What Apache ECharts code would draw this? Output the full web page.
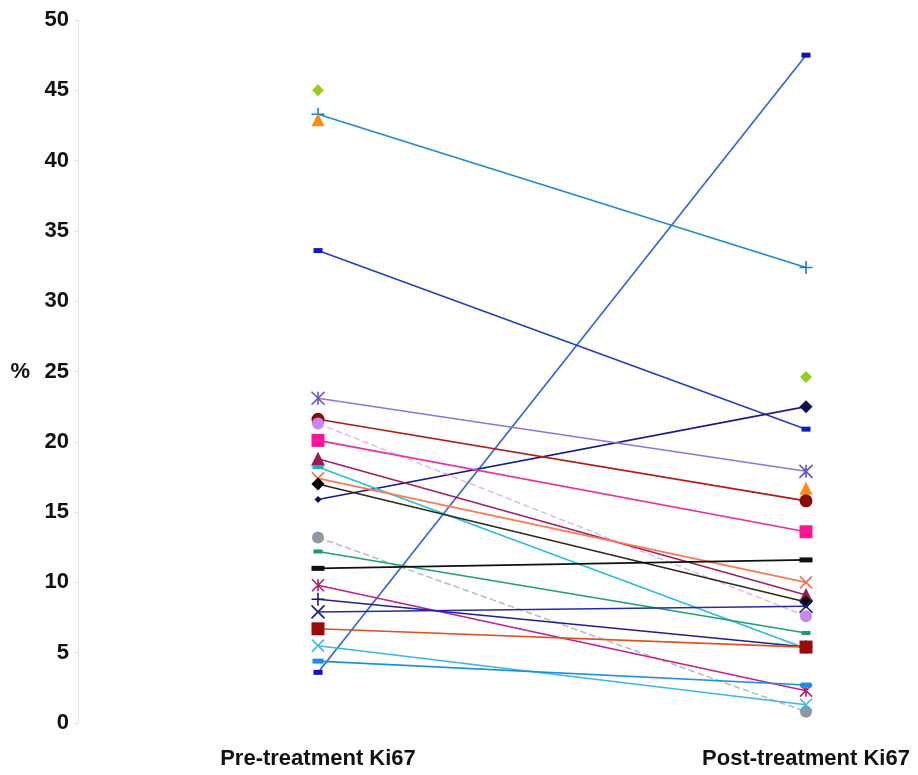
<!DOCTYPE html>
<html>
<head>
<meta charset="utf-8">
<script src="https://cdn.jsdelivr.net/npm/echarts@6/dist/echarts.min.js"></script>
<style>html,body{margin:0;padding:0;background:#fff}#c{width:918px;height:775px}</style>
</head>
<body>
<div id="c"></div>
<script>
const categories = ['Pre-treatment Ki67', 'Post-treatment Ki67'];
const yTicks = [0, 5, 10, 15, 20, 25, 30, 35, 40, 45, 50];
// Ki67 % per patient
const preValues  = [3.6, 43.3, 45.0, 42.9, 33.6, 15.9, 23.1, 21.6, 21.3, 20.1, 18.8, 18.2, 17.4, 17.0, 13.2, 12.2, 11.0, 9.8, 8.8, 7.9, 6.7, 5.5, 4.4];
const postValues = [47.5, 32.4, 24.6, 16.7, 20.9, 22.5, 17.9, 15.8, 7.6, 13.6, 9.1, 5.3, 10.0, 8.6, 0.8, 6.4, 11.6, 2.3, 5.4, 8.3, 5.4, 1.3, 2.7];

const PLUS = 'path://M5,0L5,10M0,5L10,5';
const XS = 'path://M0,0L10,10M10,0L0,10';
const AST = 'path://M0,0L10,10M10,0L0,10M5,0L5,10';
// styles: [markerColor, lineColor, symbol, size, lineType, lineOpacity, strokeSymbol]
const styles = [
  ['#1010c8', '#2f62d8', 'rect', [9, 5], 'solid', 1, false],
  ['#1e7fc0', '#1e8ccc', PLUS, 13, 'solid', 1, true],
  ['#99cc22', '#99cc22', 'diamond', 12, 'dashed', 0, false],
  ['#ff8c10', '#ff8c10', 'triangle', 13, 'dashed', 0, false],
  ['#0a1ec8', '#2040c0', 'rect', [9, 5], 'solid', 1, false],
  ['#10105a', '#1a1a8c', 'diamond', 13, 'solid', 1, false],
  ['#6a50c8', '#8878d8', AST, 13, 'solid', 1, true],
  ['#8a0a0a', '#b01818', 'circle', 13, 'solid', 1, false],
  ['#c688f0', '#d090e8', 'circle', 12, 'dashed', 0.6, false],
  ['#ff1493', '#e8309c', 'rect', 13, 'solid', 1, false],
  ['#9a1a55', '#a02060', 'triangle', 14, 'solid', 1, false],
  ['#20b0c0', '#28c0d8', 'rect', [11, 4], 'solid', 1, false],
  ['#ff6a50', '#ff7850', XS, 12, 'solid', 1, true],
  ['#000000', '#302818', 'diamond', 13, 'solid', 1, false],
  ['#9098a0', '#a8aeb4', 'circle', 12, 'dashed', 0.8, false],
  ['#1a9a6a', '#20a070', 'rect', [9, 4], 'solid', 1, false],
  ['#101010', '#101010', 'rect', [13, 5], 'solid', 1, false],
  ['#b02070', '#c02090', AST, 12, 'solid', 1, true],
  ['#1a1a7a', '#20208c', PLUS, 13, 'solid', 1, true],
  ['#1a1a8a', '#2828a8', XS, 13, 'solid', 1, true],
  ['#9a0a0a', '#e05020', 'rect', 13, 'solid', 1, false],
  ['#40b8e8', '#38b8e8', XS, 12, 'solid', 1, true],
  ['#1890e8', '#1a90e0', 'rect', [11, 5], 'solid', 1, false]
];

const series = preValues.map((p, i) => {
  const s = styles[i];
  return {
    type: 'line',
    data: [
      { value: p, symbolSize: i === 5 ? 7 : s[3] },
      { value: postValues[i], symbolSize: s[3] }
    ],
    symbol: s[2],
    showSymbol: true,
    silent: true,
    animation: false,
    lineStyle: { color: s[1], width: 1.6, type: s[4], opacity: s[5] },
    itemStyle: s[6]
      ? { color: s[0], borderColor: s[0], borderWidth: 1.6 }
      : { color: s[0], borderWidth: 0 },
    z: 2
  };
});

const FONT = 'Liberation Sans, Arial, sans-serif';
const chart = echarts.init(document.getElementById('c'));
chart.setOption({
  animation: false,
  backgroundColor: '#ffffff',
  grid: { left: 318, right: 112, top: 20, bottom: 52 },
  xAxis: {
    type: 'category',
    data: categories,
    boundaryGap: false,
    axisLine: { show: false },
    axisTick: { show: false },
    splitLine: { show: false },
    axisLabel: { margin: 25, fontSize: 22, fontWeight: 'bold', color: '#111', fontFamily: FONT }
  },
  yAxis: {
    type: 'value',
    min: yTicks[0],
    max: yTicks[yTicks.length - 1],
    interval: 5,
    offset: 240,
    name: '%',
    nameLocation: 'middle',
    nameRotate: 0,
    nameGap: 48,
    nameTextStyle: { fontSize: 22, fontWeight: 'bold', color: '#111', fontFamily: FONT },
    axisLine: { show: true, lineStyle: { color: '#e4e4e4', width: 1 } },
    axisTick: { show: true, length: 3, inside: false, lineStyle: { color: '#d8d8d8' } },
    splitLine: { show: false },
    axisLabel: { margin: 9, fontSize: 22, fontWeight: 'bold', color: '#111', fontFamily: FONT }
  },
  series: series
});
</script>
</body>
</html>
